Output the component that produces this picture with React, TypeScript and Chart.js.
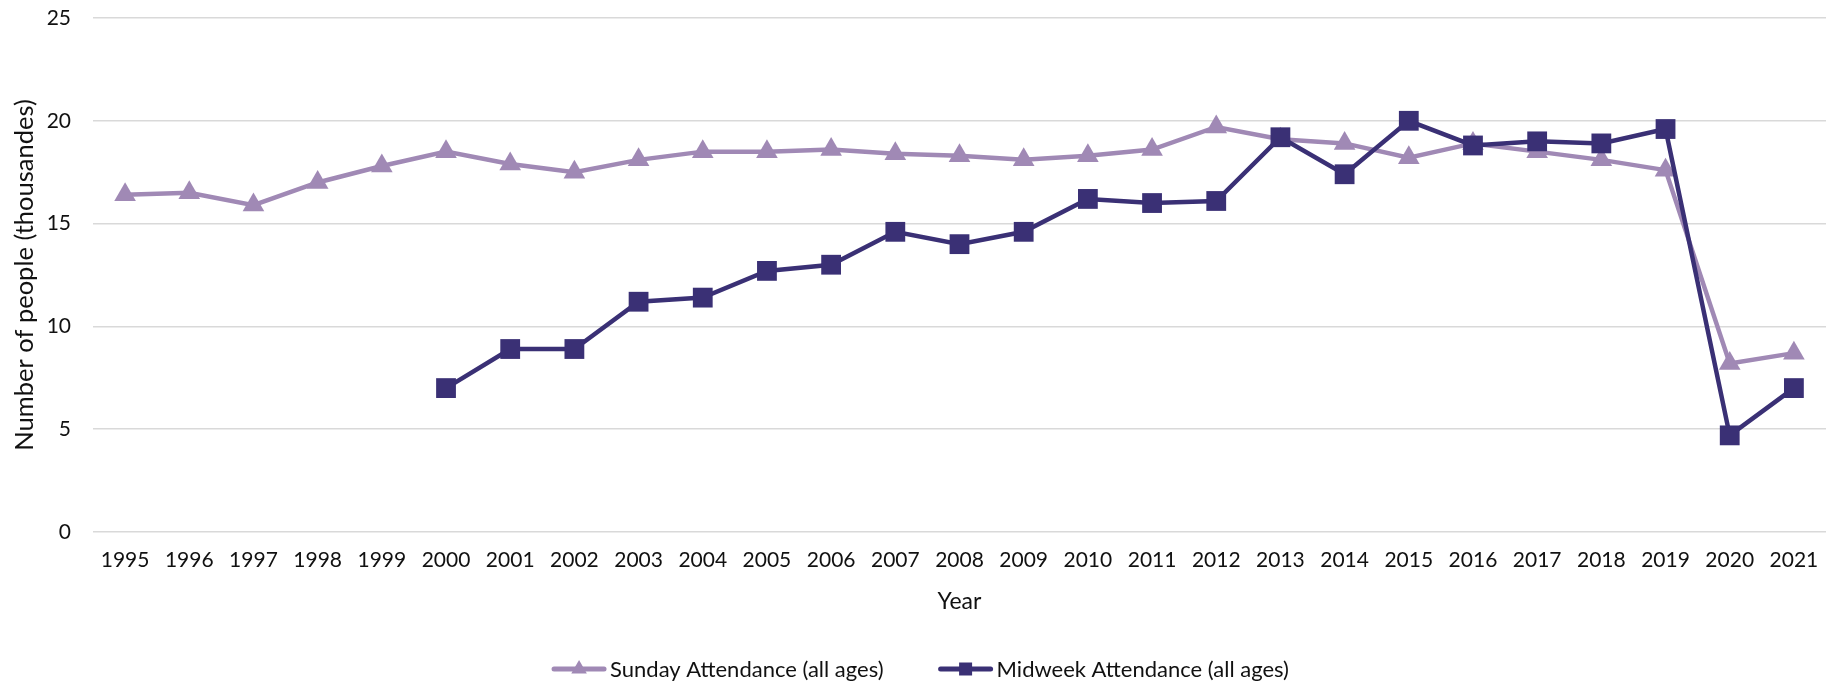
import React, { useEffect, useRef } from "react";
import { Chart, registerables } from "chart.js";

Chart.register(...registerables);

const years = [
  "1995", "1996", "1997", "1998", "1999", "2000", "2001", "2002", "2003",
  "2004", "2005", "2006", "2007", "2008", "2009", "2010", "2011", "2012",
  "2013", "2014", "2015", "2016", "2017", "2018", "2019", "2020", "2021",
];

const sundayAttendance = [
  16.4, 16.5, 15.9, 17.0, 17.8, 18.5, 17.9, 17.5, 18.1, 18.5, 18.5, 18.6, 18.4,
  18.3, 18.1, 18.3, 18.6, 19.7, 19.1, 18.9, 18.2, 18.9, 18.5, 18.1, 17.6, 8.2, 8.7,
];

const midweekAttendance = [
  null, null, null, null, null, 7.0, 8.9, 8.9, 11.2, 11.4, 12.7, 13.0, 14.6,
  14.0, 14.6, 16.2, 16.0, 16.1, 19.2, 17.4, 20.0, 18.8, 19.0, 18.9, 19.6, 4.7, 7.0,
];

const seriesLabels = ["Sunday Attendance (all ages)", "Midweek Attendance (all ages)"];
const yTicks = [0, 5, 10, 15, 20, 25];

const SUNDAY_COLOR = "#A089B5";
const MIDWEEK_COLOR = "#3A3075";
const FONT = "Lato, 'Open Sans', sans-serif";
const TEXT_COLOR = "#111111";

const legendPlugin = {
  id: "customLegend",
  afterDraw(chart: any) {
    const ctx = chart.ctx as CanvasRenderingContext2D;
    ctx.save();
    ctx.font = `22px ${FONT}`;
    ctx.textBaseline = "middle";
    ctx.textAlign = "left";
    const items = chart.data.datasets.map((ds: any) => ({
      label: ds.label,
      color: ds.borderColor,
      style: ds.pointStyle,
    }));
    const sample = 56;
    const gapText = 3;
    const gapItem = 54;
    const widths = items.map(
      (it: any) => sample + gapText + ctx.measureText(it.label).width
    );
    const total =
      widths.reduce((a: number, b: number) => a + b, 0) + gapItem * (items.length - 1);
    let x = chart.width / 2 - total / 2;
    const y = 669;
    items.forEach((it: any, i: number) => {
      ctx.strokeStyle = it.color;
      ctx.fillStyle = it.color;
      ctx.lineWidth = 5;
      ctx.lineCap = "round";
      ctx.beginPath();
      ctx.moveTo(x + 3, y);
      ctx.lineTo(x + sample - 3, y);
      ctx.stroke();
      const cx = x + sample / 2;
      ctx.beginPath();
      if (it.style === "triangle") {
        const r = 9;
        ctx.moveTo(cx, y - r);
        ctx.lineTo(cx + r * 0.866, y + r * 0.5);
        ctx.lineTo(cx - r * 0.866, y + r * 0.5);
        ctx.closePath();
      } else {
        const s = 6.5;
        ctx.rect(cx - s, y - s, 2 * s, 2 * s);
      }
      ctx.fill();
      ctx.fillStyle = TEXT_COLOR;
      ctx.fillText(it.label, x + sample + gapText, y + 1);
      x += widths[i] + gapItem;
    });
    ctx.restore();
  },
};

export default function App() {
  const canvasRef = useRef<HTMLCanvasElement | null>(null);

  useEffect(() => {
    const canvas = canvasRef.current;
    if (!canvas) return;
    const chart = new Chart(canvas, {
      type: "line",
      data: {
        labels: years,
        datasets: [
          {
            label: seriesLabels[0],
            data: sundayAttendance,
            borderColor: SUNDAY_COLOR,
            backgroundColor: SUNDAY_COLOR,
            borderWidth: 4.5,
            pointStyle: "triangle",
            pointRadius: 12.5,
            pointHoverRadius: 12.5,
            pointBorderWidth: 0,
            tension: 0,
            order: 1,
          },
          {
            label: seriesLabels[1],
            data: midweekAttendance,
            borderColor: MIDWEEK_COLOR,
            backgroundColor: MIDWEEK_COLOR,
            borderWidth: 4.5,
            pointStyle: "rect",
            pointRadius: 14,
            pointHoverRadius: 14,
            pointBorderWidth: 0,
            tension: 0,
            order: 0,
          },
        ],
      },
      options: {
        animation: false,
        responsive: false,
        maintainAspectRatio: false,
        layout: { padding: { top: 18, right: 2, bottom: 46, left: 0 } },
        plugins: {
          legend: { display: false },
          tooltip: { enabled: false },
        },
        scales: {
          x: {
            type: "category",
            offset: true,
            grid: { display: false, drawTicks: false },
            border: { display: false },
            ticks: {
              color: TEXT_COLOR,
              font: { family: FONT, size: 21 },
              padding: 16,
              maxRotation: 0,
              autoSkip: false,
            },
            title: {
              display: true,
              text: "Year",
              color: TEXT_COLOR,
              font: { family: FONT, size: 23 },
              padding: { top: 0, bottom: 25 },
            },
            afterFit: (scale: any) => {
              scale.height = 108;
              scale.paddingLeft = 0;
              scale.paddingRight = 0;
            },
          },
          y: {
            min: 0,
            max: 25,
            grid: { color: "#D9D9D9", lineWidth: 1.5, drawTicks: false },
            border: { display: false },
            afterBuildTicks: (scale: any) => {
              scale.ticks = yTicks.map((v) => ({ value: v }));
            },
            ticks: {
              color: TEXT_COLOR,
              font: { family: FONT, size: 21 },
              padding: 22,
            },
            title: {
              display: true,
              text: "Number of people (thousandes)",
              color: TEXT_COLOR,
              font: { family: FONT, size: 25.5 },
              padding: { top: 9, bottom: 0 },
            },
            afterFit: (scale: any) => {
              scale.width = 93;
              scale.paddingTop = 0;
              scale.paddingBottom = 0;
            },
          },
        },
      },
      plugins: [legendPlugin],
    });
    return () => chart.destroy();
  }, []);

  return (
    <div style={{ position: "fixed", left: 0, top: 0, width: 1840, height: 686, background: "#fff" }}>
      <canvas ref={canvasRef} width={1840} height={686} style={{ display: "block" }} />
    </div>
  );
}
